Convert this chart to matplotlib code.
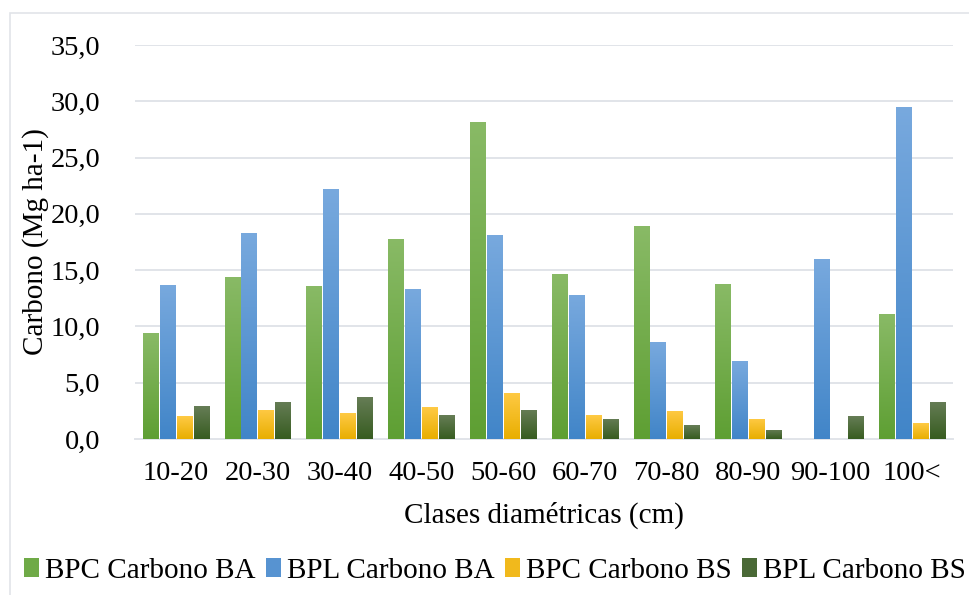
import matplotlib
matplotlib.use('Agg')
import matplotlib.pyplot as plt
import numpy as np
from matplotlib.colors import LinearSegmentedColormap
from matplotlib.patches import Rectangle, Patch

# --- Data ---
clases = ['10-20', '20-30', '30-40', '40-50', '50-60', '60-70', '70-80', '80-90', '90-100', '100<']
bpc_ba = [9.4, 14.4, 13.6, 17.8, 28.2, 14.7, 18.9, 13.8, 0.0, 11.1]
bpl_ba = [13.7, 18.3, 22.2, 13.3, 18.1, 12.8, 8.6, 6.9, 16.0, 29.5]
bpc_bs = [2.0, 2.6, 2.3, 2.8, 4.1, 2.1, 2.5, 1.8, 0.0, 1.4]
bpl_bs = [2.9, 3.3, 3.7, 2.1, 2.6, 1.8, 1.2, 0.8, 2.0, 3.3]

series = [
    ('BPC Carbono BA', bpc_ba, '#89ba66', '#5e9f33'),
    ('BPL Carbono BA', bpl_ba, '#78a9de', '#4185c8'),
    ('BPC Carbono BS', bpc_bs, '#ffca45', '#e8ae00'),
    ('BPL Carbono BS', bpl_bs, '#667d56', '#375c20'),
]

plt.rcParams['font.family'] = ['Liberation Serif', 'DejaVu Serif']

fig = plt.figure(figsize=(9.69, 5.95), dpi=100)
ax = fig.add_axes([0.1393, 0.2622, 0.8442, 0.6622])

x = np.arange(len(clases))
width = 0.19
step = 0.207
grad = np.linspace(0, 1, 256).reshape(-1, 1)

handles = []
for i, (name, vals, top, bottom) in enumerate(series):
    cmap = LinearSegmentedColormap.from_list(name, [bottom, top])
    pos = x + (i - 1.5) * step
    bars = ax.bar(pos, vals, width, color=bottom, edgecolor='none', zorder=3)
    # vertical gradient fill like the Excel original
    for b in bars:
        if b.get_height() <= 0:
            continue
        im = ax.imshow(grad, cmap=cmap, origin='lower', aspect='auto',
                       extent=[b.get_x(), b.get_x() + b.get_width(), 0, b.get_height()],
                       zorder=3.5)
        im.set_clip_path(b)
    handles.append(Patch(facecolor=cmap(0.4), label=name))

ax.set_xlim(-0.5, len(clases) - 0.5)
ax.set_ylim(0, 35)
ax.set_yticks(np.arange(0, 36, 5))
ax.set_yticklabels([f'{v:.1f}'.replace('.', ',') for v in np.arange(0, 36, 5)])
ax.set_xticks(x)
ax.set_xticklabels(clases)
ax.tick_params(axis='both', length=0, labelsize=20.5)
ax.tick_params(axis='y', pad=25)
ax.tick_params(axis='x', pad=16)

ax.grid(axis='y', color='#e1e4e9', linewidth=1.4, zorder=0)
for s in ['top', 'right', 'left']:
    ax.spines[s].set_visible(False)
ax.spines['bottom'].set_color('#e1e4e9')
ax.spines['bottom'].set_linewidth(1.4)

ax.set_xlabel('Clases diamétricas (cm)', fontsize=21)
ax.set_ylabel('Carbono (Mg ha-1)', fontsize=21)
ax.xaxis.set_label_coords(0.5, -0.16)
ax.yaxis.set_label_coords(-0.105, 0.5)

# chart area border (Excel style)
fig.patches.append(Rectangle((10 / 969, -0.1), 1.2, 1.1 - 13 / 595, transform=fig.transFigure,
                             fill=False, edgecolor='#e1e4e9', linewidth=1.2))

fig.legend(handles=handles, loc='center left', bbox_to_anchor=(0.0248, 0.041),
           ncol=4, frameon=False, fontsize=21, handlelength=0.52, handleheight=0.6,
           handletextpad=0.2, columnspacing=0.36, borderaxespad=0, borderpad=0)

fig.savefig('out.png', dpi=100)
